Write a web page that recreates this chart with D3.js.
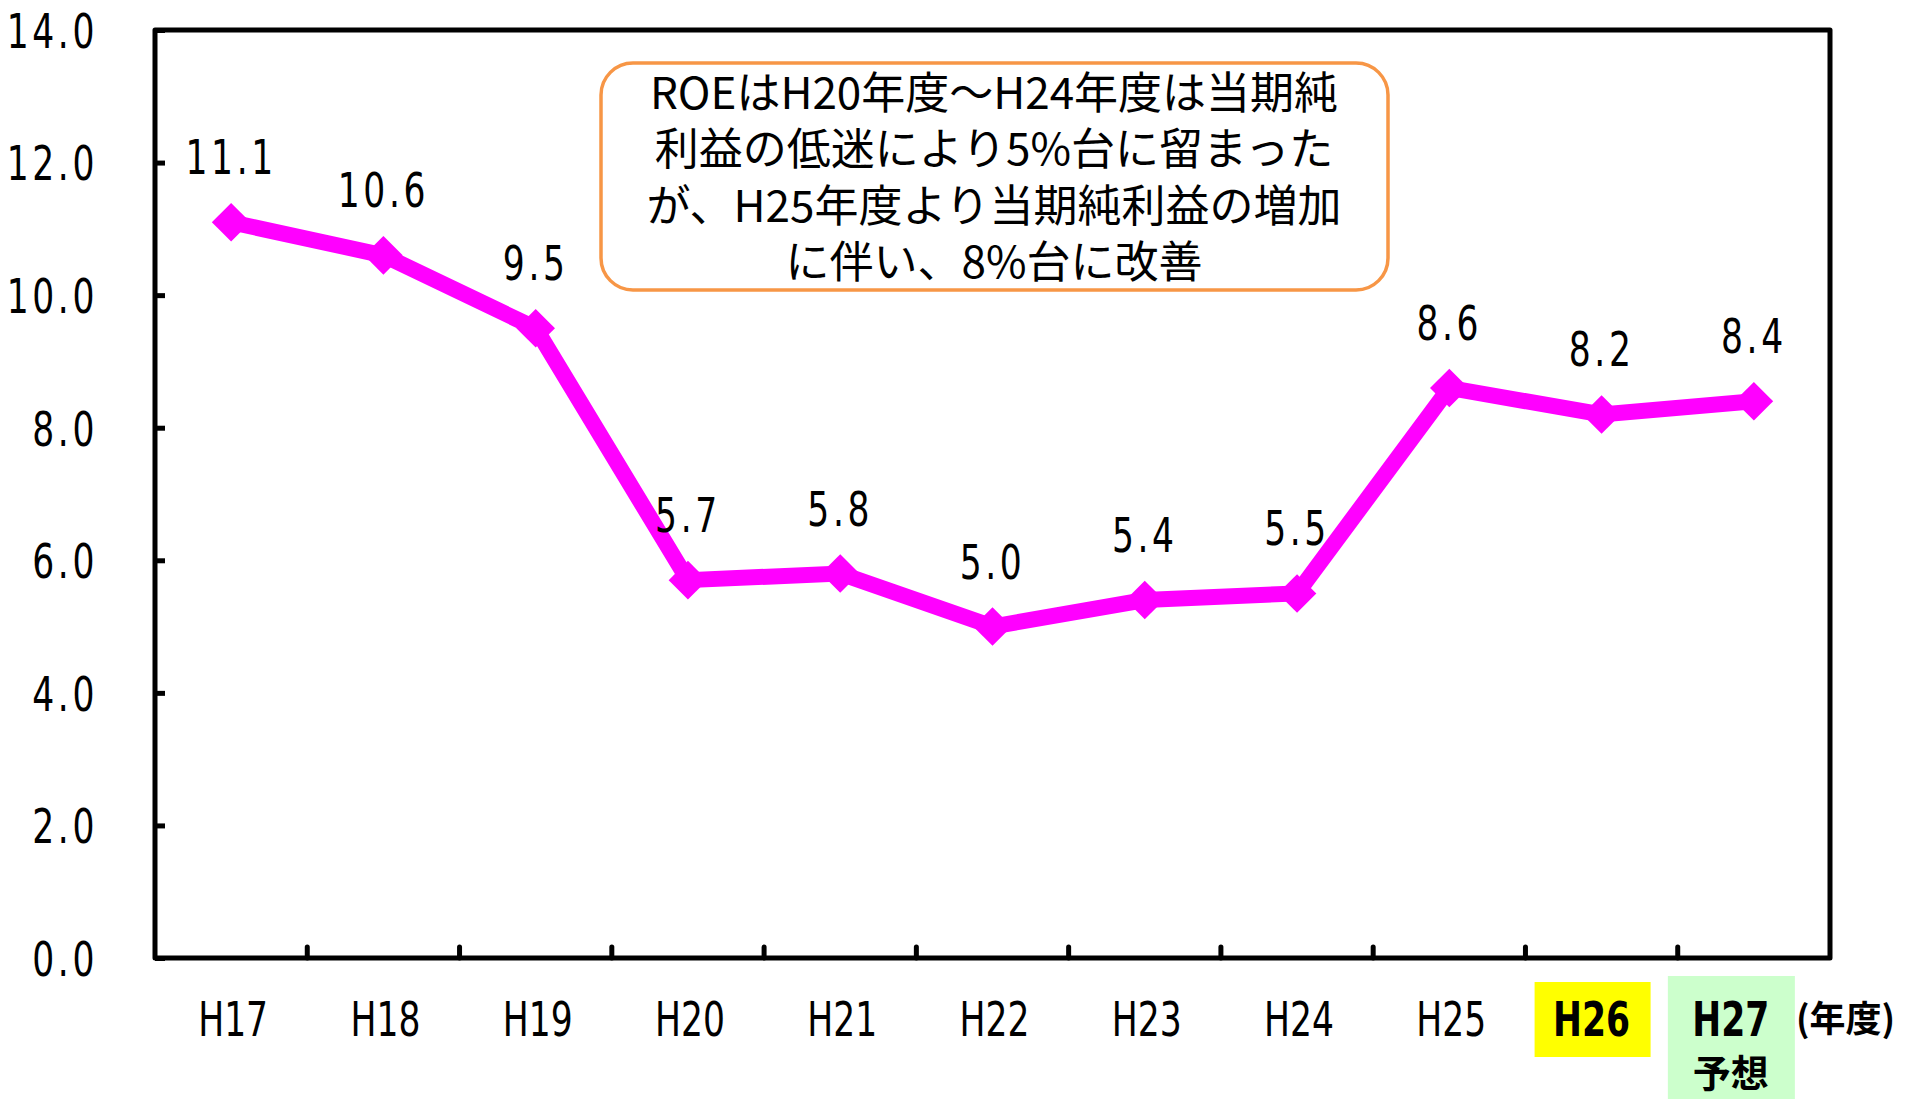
<!DOCTYPE html>
<html>
<head>
<meta charset="utf-8">
<script src="https://cdn.jsdelivr.net/npm/d3@7"></script>
<style>
body { margin: 0; background: #fff; }
svg { display: block; }
.num { font-family: "DejaVu Sans", sans-serif; font-size: 48px; fill: #000; }
.jp { font-family: "Noto Sans CJK JP", sans-serif; fill: #000; }
</style>
</head>
<body>
<svg id="chart" width="1912" height="1099"></svg>
<script>
// ROE by fiscal year
var years = ["H17", "H18", "H19", "H20", "H21", "H22", "H23", "H24", "H25", "H26", "H27"];
var roe = [11.1, 10.6, 9.5, 5.7, 5.8, 5.0, 5.4, 5.5, 8.6, 8.2, 8.4];
var yTicks = [0, 2, 4, 6, 8, 10, 12, 14];
var noteLines = [
    "ROEはH20年度～H24年度は当期純",
    "利益の低迷により5%台に留まった",
    "が、H25年度より当期純利益の増加",
    "に伴い、8%台に改善"
];

var mLeft = 155, mRight = 1830, mTop = 30, mBottom = 958;
var narrow = 0.72;   // squeeze numerals horizontally
var svg = d3.select("#chart");

var x = d3.scaleBand().domain(years).range([mLeft, mRight]).padding(0);
var y = d3.scaleLinear().domain([0, 14]).range([mBottom, mTop]);
var cx = function(d){ return x(d) + x.bandwidth() / 2; };
var fmt = d3.format(".1f");

// y axis, ticks point inward
var yAxis = d3.axisLeft(y)
    .tickValues(yTicks)
    .tickFormat(fmt)
    .tickSizeInner(-10)
    .tickSizeOuter(0)
    .tickPadding(57);

var gy = svg.append("g")
    .attr("transform", "translate(" + mLeft + ",0)")
    .call(yAxis);
gy.select(".domain").remove();
gy.selectAll(".tick line").attr("stroke", "#000").attr("stroke-width", 5);
gy.selectAll(".tick text").remove();
gy.selectAll(".tick").append("text")
    .attr("class", "num")
    .attr("text-anchor", "end")
    .attr("transform", "translate(-57,0) scale(" + narrow + ",1)")
    .attr("dy", "0.36em")
    .style("letter-spacing", "5px")
    .text(function(d){ return fmt(d); });

// category boundary ticks on the bottom
svg.append("g").selectAll("line")
    .data(years.slice(1))
    .enter().append("line")
    .attr("x1", function(d){ return x(d); })
    .attr("x2", function(d){ return x(d); })
    .attr("y1", mBottom)
    .attr("y2", mBottom - 11)
    .attr("stroke", "#000")
    .attr("stroke-width", 5)
    .attr("stroke-linecap", "round");

// plot frame
svg.append("rect")
    .attr("x", mLeft)
    .attr("y", mTop)
    .attr("width", mRight - mLeft)
    .attr("height", mBottom - mTop)
    .attr("fill", "none")
    .attr("stroke", "#000")
    .attr("stroke-width", 5)
    .attr("stroke-linejoin", "round");

// highlight boxes for H26 / H27
svg.append("rect")
    .attr("x", cx("H26") - 67).attr("y", 982)
    .attr("width", 116).attr("height", 75)
    .attr("fill", "#ffff00");
svg.append("rect")
    .attr("x", cx("H27") - 86).attr("y", 976)
    .attr("width", 127).attr("height", 123)
    .attr("fill", "#ccffcc");

// x labels
function labelX(d){
    if (d == "H26") return cx(d) - 10;
    if (d == "H27") return cx(d) - 23;
    return cx(d) + 2;
}
svg.append("g").selectAll("text")
    .data(years)
    .enter().append("text")
    .attr("class", "num")
    .attr("text-anchor", "middle")
    .attr("transform", function(d){ return "translate(" + labelX(d) + ",1036) scale(" + narrow + ",1)"; })
    .style("font-weight", function(d){ return (d == "H26" || d == "H27") ? "bold" : "normal"; })
    .text(function(d){ return d; });

svg.append("text")
    .attr("class", "jp")
    .attr("x", cx("H27") - 23)
    .attr("y", 1087)
    .attr("text-anchor", "middle")
    .style("font-size", "38px")
    .style("font-weight", "bold")
    .text("予想");

svg.append("text")
    .attr("class", "jp")
    .attr("x", 1796)
    .attr("y", 1032)
    .style("font-size", "36px")
    .style("font-weight", "bold")
    .text("(年度)");

// line + markers
var line = d3.line()
    .x(function(d, i){ return cx(years[i]); })
    .y(function(d){ return y(d); });

svg.append("path")
    .datum(roe)
    .attr("d", line)
    .attr("fill", "none")
    .attr("stroke", "#ff00ff")
    .attr("stroke-width", 16)
    .attr("stroke-linejoin", "miter");

svg.append("g").selectAll("path")
    .data(roe)
    .enter().append("path")
    .attr("d", d3.symbol().type(d3.symbolDiamond2).size(950))
    .attr("transform", function(d, i){ return "translate(" + cx(years[i]) + "," + y(d) + ")"; })
    .attr("fill", "#ff00ff");

// value labels
svg.append("g").selectAll("text")
    .data(roe)
    .enter().append("text")
    .attr("class", "num")
    .attr("text-anchor", "middle")
    .attr("transform", function(d, i){ return "translate(" + cx(years[i]) + "," + (y(d) - 48) + ") scale(" + narrow + ",1)"; })
    .style("letter-spacing", "5px")
    .text(function(d){ return fmt(d); });

// note box
svg.append("rect")
    .attr("x", 601).attr("y", 63)
    .attr("width", 787).attr("height", 227)
    .attr("rx", 32)
    .attr("fill", "#fff")
    .attr("stroke", "#f79646")
    .attr("stroke-width", 3.5);

svg.append("g").selectAll("text")
    .data(noteLines)
    .enter().append("text")
    .attr("class", "jp")
    .attr("x", 994)
    .attr("y", function(d, i){ return 93 + i * 56.5; })
    .attr("dy", "0.36em")
    .attr("text-anchor", "middle")
    .style("font-size", "44px")
    .style("font-weight", "400")
    .text(function(d){ return d; });
</script>
</body>
</html>
